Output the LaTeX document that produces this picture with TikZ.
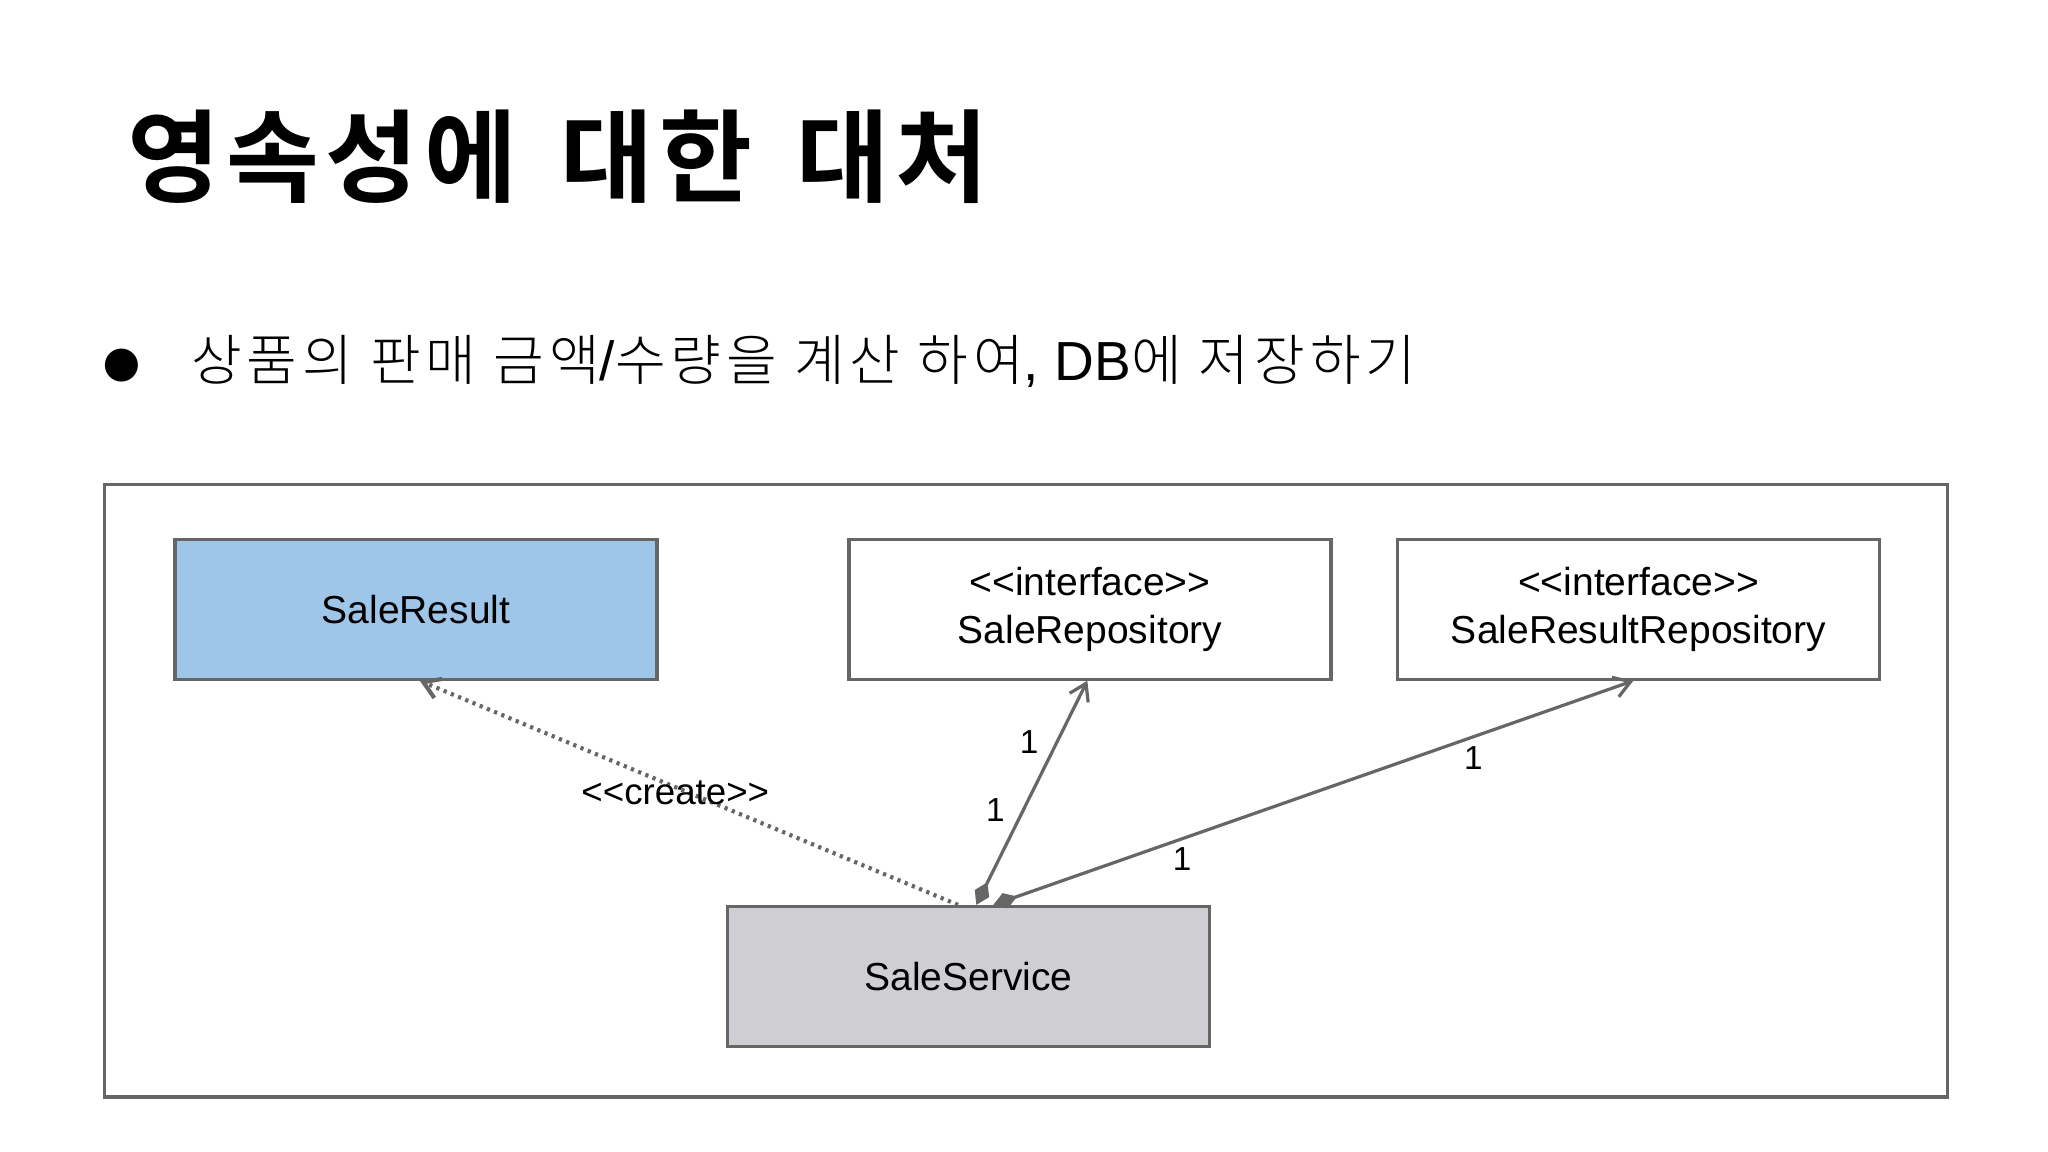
\documentclass[tikz,border=0pt]{standalone}
\usepackage{fontspec}
\setmainfont{Liberation Sans}
\newfontfamily\kr[LetterSpace=9]{Noto Sans CJK KR Light}
\newfontfamily\krb[LetterSpace=6]{Noto Sans CJK KR Bold}
\usetikzlibrary{arrows.meta}
\definecolor{ln}{HTML}{666666}
\begin{document}
\begin{tikzpicture}[x=0.02cm,y=-0.02cm,
  box/.style={draw=ln,line width=1.4pt,minimum width=7.38cm,minimum height=2.14cm,inner sep=0pt,font=\fontsize{17}{21}\selectfont,align=center},
  conn/.style={draw=ln,line width=1.4pt},
  lbl/.style={font=\fontsize{14.5}{16}\selectfont,inner sep=1pt}]
\useasboundingbox (0,0) rectangle (1568,882);
\node[anchor=west,inner sep=0pt,font=\krb\fontsize{44}{50}\selectfont] (title) at (97,120) {영속성에 \hspace{0.15em}대한 \hspace{0.15em}대처};
\node[inner sep=0pt,font=\fontsize{16}{20}\selectfont] (bul) at (93,280) {\kr ●};
\node[anchor=west,inner sep=0pt,font=\fontsize{24}{28}\selectfont] (sub) at (146,277) {\kr 상품의 판매 금액{\rmfamily/}수량을 계산 하여{\rmfamily, DB}에 저장하기};
\node[draw=ln,line width=1.4pt,minimum width=28.22cm,minimum height=9.38cm,inner sep=0pt] (frame) at (785.5,605.5) {};
\node[box,fill={rgb,255:red,159;green,197;blue,232}] (sr) at (318.5,466.5) {SaleResult};
\node[box] (repo) at (834.5,466.5) {{<}{<}interface{>}{>}\\SaleRepository};
\node[box] (rrepo) at (1254.5,466.5) {{<}{<}interface{>}{>}\\SaleResultRepository};
\node[box,fill={rgb,255:red,207;green,206;blue,210}] (ss) at (741.5,747.5) {SaleService};
\coordinate (a1) at ([xshift=-0.16cm]ss.north);
\coordinate (a2) at ([xshift=0.12cm]ss.north);
\coordinate (a3) at ([xshift=0.38cm]ss.north);
\draw[conn,dotted,line width=1.8pt,-{Straight Barb[length=7pt,width=9pt]}] (a1) -- ([xshift=0.06cm]sr.south);
\draw[conn,{Diamond[length=11pt,width=7pt]}-{Straight Barb[length=7pt,width=9pt]}] (a2) -- ([xshift=-0.04cm]repo.south);
\draw[conn,{Diamond[length=11pt,width=7pt]}-{Straight Barb[length=7pt,width=9pt]}] (a3) -- ([xshift=-0.08cm]rrepo.south);
\node[lbl,font=\fontsize{16}{18}\selectfont] (cl) at (517,607) {{<}{<}create{>}{>}};
\node[lbl] (l1) at (788,568) {1};
\node[lbl] (l2) at (762,620) {1};
\node[lbl] (l3) at (1128,580) {1};
\node[lbl] (l4) at (905,658) {1};
\end{tikzpicture}
\end{document}
